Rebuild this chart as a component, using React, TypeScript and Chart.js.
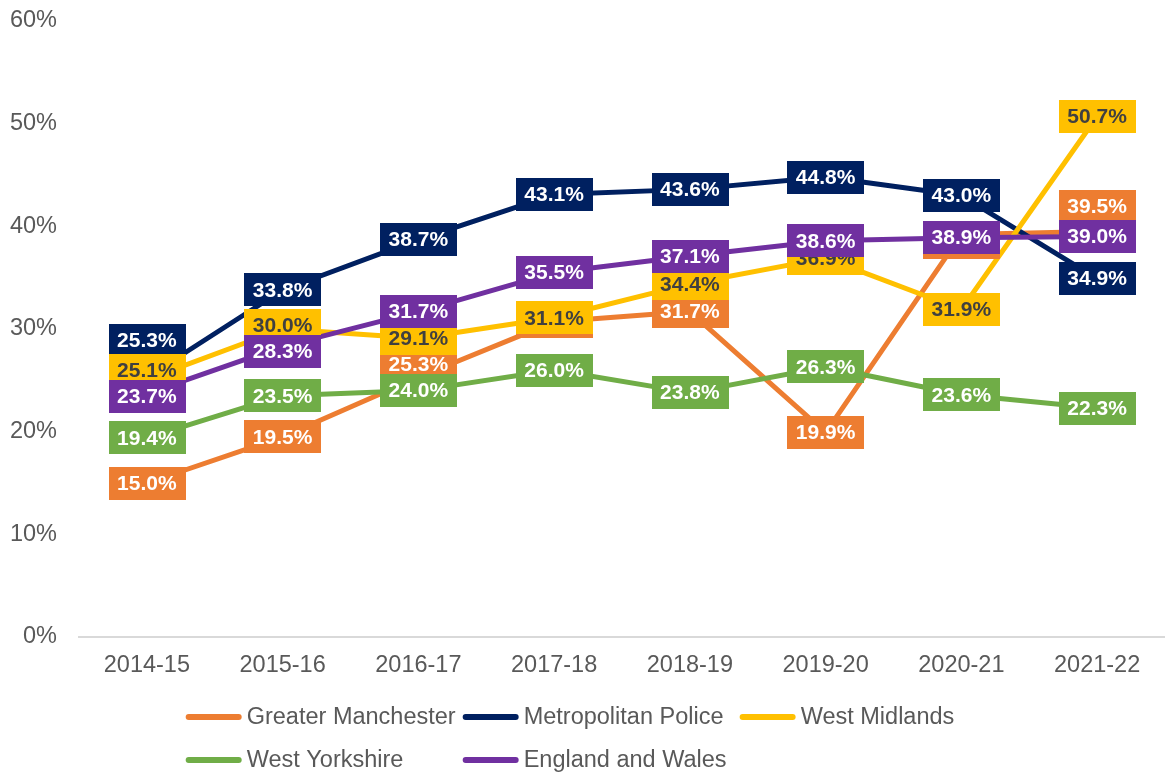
import React, { useEffect, useRef } from "react";
import { Chart, registerables } from "chart.js";

Chart.register(...registerables);

const categories = ["2014-15", "2015-16", "2016-17", "2017-18", "2018-19", "2019-20", "2020-21", "2021-22"];

const greaterManchester = [15.0, 19.5, 25.3, 30.7, 31.7, 19.9, 39.2, 39.5];
const metropolitanPolice = [25.3, 33.8, 38.7, 43.1, 43.6, 44.8, 43.0, 34.9];
const westMidlands = [25.1, 30.0, 29.1, 31.1, 34.4, 36.9, 31.9, 50.7];
const westYorkshire = [19.4, 23.5, 24.0, 26.0, 23.8, 26.3, 23.6, 22.3];
const englandAndWales = [23.7, 28.3, 31.7, 35.5, 37.1, 38.6, 38.9, 39.0];

const seriesNames = ["Greater Manchester", "Metropolitan Police", "West Midlands", "West Yorkshire", "England and Wales"];
const seriesValues = [greaterManchester, metropolitanPolice, westMidlands, westYorkshire, englandAndWales];
const seriesColors = ["#ED7D31", "#002060", "#FFC000", "#70AD47", "#7030A0"];
const labelTextColors = ["#FFFFFF", "#FFFFFF", "#404040", "#FFFFFF", "#FFFFFF"];

const yTickValues = [0, 10, 20, 30, 40, 50, 60];

// vertical nudges (px) of the data-label boxes, as placed in the original
const labelNudges = [
  [0, 0, -13, 0, 0, 0, 8, -25],
  [-37, 0, 0, 0, 0, 0, 0, 0],
  [-9, -3.5, 0, 0, 0, 0, 0, 0],
  [0, 0, 0, 0, 0, 0, 0, 0],
  [3, 5, 0, 0, 0, 0, 0, 0],
];

const FONT = "'Liberation Sans', Arial, sans-serif";
const TEXT_GREY = "#595959";

const dataLabelPlugin = {
  id: "dataLabelBoxes",
  afterDatasetsDraw(chart: any) {
    const ctx = chart.ctx;
    ctx.save();
    ctx.font = `bold 21px ${FONT}`;
    ctx.textAlign = "center";
    ctx.textBaseline = "middle";
    for (let i = 0; i < chart.data.datasets.length; i++) {
      const meta = chart.getDatasetMeta(i);
      const values = chart.data.datasets[i].data;
      meta.data.forEach((pt: any, j: number) => {
        const text = Number(values[j]).toFixed(1) + "%";
        const w = ctx.measureText(text).width + 17;
        const h = 33;
        const cx = pt.x;
        const cy = pt.y + labelNudges[i][j];
        ctx.fillStyle = seriesColors[i];
        ctx.fillRect(Math.round(cx - w / 2), Math.round(cy - h / 2), Math.round(w), h);
        ctx.fillStyle = labelTextColors[i];
        ctx.fillText(text, cx, cy + 1);
      });
    }
    ctx.restore();
  },
};

const legendPlugin = {
  id: "gridLegend",
  afterDraw(chart: any) {
    const ctx = chart.ctx;
    ctx.save();
    ctx.font = `23.5px ${FONT}`;
    ctx.textBaseline = "middle";
    ctx.textAlign = "left";
    const lineLen = 56;
    const gap = 5;
    const widths = seriesNames.map((n) => lineLen + gap + ctx.measureText(n).width);
    const colW = Math.max(...widths) + 7;
    const cols = 3;
    const total = colW * (cols - 1) + widths[2];
    const startX = 570 - total / 2;
    const rowY = [717, 760];
    seriesNames.forEach((name, k) => {
      const col = k % cols;
      const row = Math.floor(k / cols);
      const x = startX + col * colW;
      const y = rowY[row];
      ctx.strokeStyle = seriesColors[k];
      ctx.lineWidth = 6;
      ctx.lineCap = "round";
      ctx.beginPath();
      ctx.moveTo(x + 3, y);
      ctx.lineTo(x + lineLen - 3, y);
      ctx.stroke();
      ctx.fillStyle = TEXT_GREY;
      ctx.fillText(name, x + lineLen + gap, y + 1);
    });
    ctx.restore();
  },
};

export default function App() {
  const canvasRef = useRef<HTMLCanvasElement | null>(null);

  useEffect(() => {
    document.body.style.margin = "0";
    const canvas = canvasRef.current;
    if (!canvas) return;
    const chart = new Chart(canvas, {
      type: "line",
      data: {
        labels: categories,
        datasets: seriesValues.map((vals, i) => ({
          label: seriesNames[i],
          data: vals,
          borderColor: seriesColors[i],
          backgroundColor: seriesColors[i],
          borderWidth: 5,
          pointRadius: 0,
          pointHoverRadius: 0,
          tension: 0,
          fill: false,
          borderJoinStyle: "round" as const,
          order: seriesValues.length - 1 - i,
        })),
      },
      options: {
        animation: false,
        responsive: false,
        maintainAspectRatio: false,
        layout: { padding: { top: 21, left: 0, right: 0, bottom: 0 } },
        plugins: {
          legend: { display: false },
          tooltip: { enabled: false },
        },
        scales: {
          x: {
            offset: true,
            grid: { display: false, drawTicks: false },
            border: { display: true, color: "#D9D9D9", width: 2 },
            ticks: {
              color: TEXT_GREY,
              font: { family: FONT, size: 23.5 },
              padding: 14,
              maxRotation: 0,
              autoSkip: false,
            },
            afterFit: (s: any) => {
              s.height = 137;
              s.paddingLeft = 0;
              s.paddingRight = 0;
            },
          },
          y: {
            min: 0,
            max: 60,
            grid: { display: false, drawTicks: false },
            border: { display: false },
            afterBuildTicks: (s: any) => {
              s.ticks = yTickValues.map((v) => ({ value: v }));
            },
            ticks: {
              color: TEXT_GREY,
              font: { family: FONT, size: 23.5 },
              padding: 22,
              callback: (v: any) => `${v}%`,
            },
            afterFit: (s: any) => {
              s.width = 79;
              s.paddingTop = 0;
              s.paddingBottom = 0;
            },
          },
        },
      },
      plugins: [dataLabelPlugin, legendPlugin],
    });
    return () => chart.destroy();
  }, []);

  return (
    <div style={{ width: 1165, height: 774, background: "#FFFFFF" }}>
      <canvas ref={canvasRef} width={1165} height={774} style={{ display: "block" }} />
    </div>
  );
}
